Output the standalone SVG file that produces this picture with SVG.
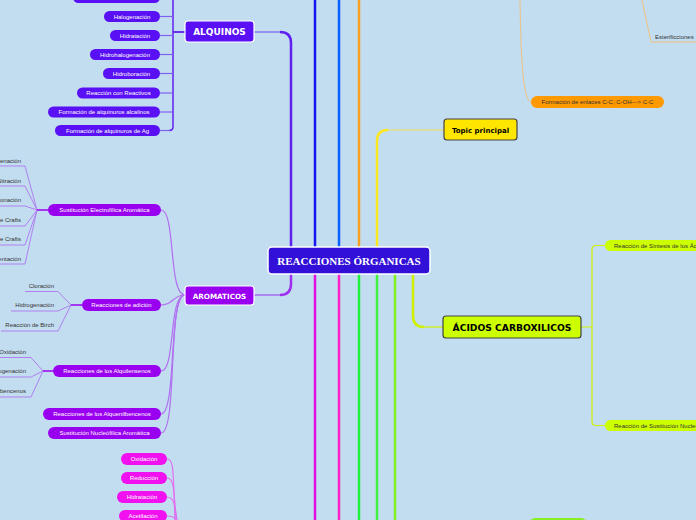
<svg xmlns="http://www.w3.org/2000/svg" width="696" height="520" viewBox="0 0 696 520">
<style>
.pt{font-family:"Liberation Sans",Arial,sans-serif;font-size:6px;text-anchor:middle;fill:#fff}
.pd{font-family:"Liberation Sans",Arial,sans-serif;font-size:6px;fill:#333}
.lbl{font-family:"Liberation Sans",Arial,sans-serif;font-size:6px;fill:#333;text-anchor:end}
.big{font-family:"DejaVu Sans",Verdana,sans-serif;font-weight:bold;text-anchor:middle}
.m{fill:none;stroke-width:2.5}
.t{fill:none;stroke-width:1.2}
.alq{fill:#5a10f4}
.aro{fill:#9900f0}
.mag{fill:#f010f0}
.acd{fill:#ccff00}
</style>
<rect width="696" height="520" fill="#c2ddf0"/>
<g id="connectors">
<path class="m" stroke="#6020f0" d="M291,247 V43 Q291,32 280,32"/>
<path class="t" stroke="#7a60f0" d="M280,32 H254"/>
<path class="m" stroke="#1414f0" d="M315,247 V0"/>
<path class="m" stroke="#0a60ff" d="M339,247 V0"/>
<path class="m" stroke="#f5a020" d="M359,247 V0"/>
<path class="m" stroke="#ffe820" d="M377,247 V141 Q377,130 388,130"/>
<path class="t" stroke="#f0e050" d="M388,130 H444"/>
<path class="m" stroke="#a030f0" d="M291,274 V284 Q291,295 280,295"/>
<path class="t" stroke="#a050f0" d="M280,295 H254"/>
<path class="m" stroke="#e010e0" d="M315,274 V520"/>
<path class="m" stroke="#ff20c8" d="M339,274 V520"/>
<path class="m" stroke="#20f040" d="M359,274 V520"/>
<path class="m" stroke="#40f040" d="M377,274 V520"/>
<path class="m" stroke="#80f020" d="M395,274 V520"/>
<path class="m" stroke="#d0f000" d="M413,274 V316 Q413,327 424,327"/>
<path class="t" stroke="#d0f000" d="M424,327 H443"/>
<path fill="none" stroke="#6020f0" stroke-width="1.5" d="M173,0 V127 Q173,130.5 169,130.5"/>
<g class="t" stroke="#8060f0">
<path d="M160,-2.5 H173"/><path d="M160,16.5 H173"/><path d="M160,35.5 H173"/><path d="M160,54.5 H173"/>
<path d="M160,73.5 H173"/><path d="M160,93 H173"/><path d="M160,112 H173"/><path d="M160,130.5 H170"/>
<path d="M173,32 H185" stroke="#6020f0" stroke-width="1.8"/>
</g>
<g class="t" stroke="#b070f0">
<path d="M161,210 C176,210 168,295 185,295"/>
<path d="M161,305 C174,305 172,295 185,295"/>
<path d="M161,371 C176,371 168,295 185,295"/>
<path d="M161,414 C177,414 168,295 185,295"/>
<path d="M161,433 C178,433 167,295 185,295"/>
</g>
<g fill="none" stroke="#b080f0" stroke-width="1">
<polyline points="0,166 25,166 37,210"/>
<polyline points="0,186 25,186 37,210"/>
<polyline points="0,206 25,206 37,210"/>
<polyline points="0,226 25,226 37,210"/>
<polyline points="0,245 25,245 37,210"/>
<polyline points="0,264 25,264 37,210"/>
<path d="M37,210 H48" stroke="#9900f0" stroke-width="1.5"/>
<polyline points="25,291.5 58,291.5 71,305"/>
<polyline points="11,311 58,311 71,305"/>
<polyline points="1,331 58,331 71,305"/>
<path d="M71,305 H82" stroke="#9900f0" stroke-width="1.5"/>
<polyline points="0,357.5 31,357.5 43,371"/>
<polyline points="0,377 31,377 43,371"/>
<polyline points="0,397 31,397 43,371"/>
<path d="M43,371 H53" stroke="#9900f0" stroke-width="1.5"/>
</g>
<g class="t" stroke="#e070f0">
<path d="M167,459 C174,459 173,470 175,520"/>
<path d="M167,478 C174,478 174,490 176,520"/>
<path d="M167,497 C174,497 175,505 177,520"/>
<path d="M167,516 C173,516 175,518 176,520"/>
</g>
<g fill="none" stroke="#f0c080" stroke-width="1">
<path d="M520,0 C521,60 523,100 531,102"/>
<path d="M642,0 L651,42 H696"/>
</g>
<path fill="none" stroke="#d0f000" stroke-width="1.2" d="M605,245.5 H596 Q592,245.5 592,249.5 V421.5 Q592,425.5 596,425.5 H605 M581,327 H592"/>
</g>
<g id="central">
<rect x="268" y="247" width="162" height="27" rx="4" fill="#3210d8" stroke="#fff" stroke-width="1.5"/>
<text x="349" y="264.5" font-family="'Liberation Serif','Times New Roman',serif" font-weight="bold" font-size="11" fill="#fff" text-anchor="middle">REACCIONES ÓRGANICAS</text>
</g>
<g id="alquinos">
<rect x="185" y="21" width="69" height="21" rx="3" fill="#5a10f4" stroke="#fff" stroke-width="1.2"/>
<text class="big" x="219.5" y="35" font-size="9" fill="#fff">ALQUINOS</text>
</g>
<g id="alq-children">
<rect class="alq" x="73" y="-8" width="87" height="11" rx="5.5"/>
<g id="alq1"><rect class="alq" x="104" y="11" width="56" height="11" rx="5.5"/><text class="pt" x="132" y="18.5">Halogenación</text></g>
<g id="alq2"><rect class="alq" x="110" y="30" width="50" height="11" rx="5.5"/><text class="pt" x="135" y="37.5">Hidratación</text></g>
<g id="alq3"><rect class="alq" x="90" y="49" width="70" height="11" rx="5.5"/><text class="pt" x="125" y="56.5">Hidrohalogenación</text></g>
<g id="alq4"><rect class="alq" x="103" y="68" width="57" height="11" rx="5.5"/><text class="pt" x="131.5" y="75.5">Hidroboración</text></g>
<g id="alq5"><rect class="alq" x="77" y="87.5" width="83" height="11" rx="5.5"/><text class="pt" x="118.5" y="95">Reacción con Reactivos</text></g>
<g id="alq6"><rect class="alq" x="48" y="106.5" width="112" height="11" rx="5.5"/><text class="pt" x="104" y="114">Formación de alquinuros alcalinos</text></g>
<g id="alq7"><rect class="alq" x="55" y="125" width="105" height="11" rx="5.5"/><text class="pt" x="107.5" y="132.5">Formación de alquinuros de Ag</text></g>
</g>
<g id="aromaticos">
<rect x="185" y="286" width="69" height="19" rx="3" fill="#9900f0" stroke="#fff" stroke-width="1.2"/>
<text class="big" x="219.5" y="298.5" font-size="7.2" fill="#fff">AROMATICOS</text>
</g>
<g id="aro-children">
<g id="aro1"><rect class="aro" x="48" y="204" width="113" height="12" rx="6"/><text class="pt" x="104.5" y="212">Sustitución Electrofílica Aromática</text></g>
<g id="aro2"><rect class="aro" x="82" y="299" width="79" height="12" rx="6"/><text class="pt" x="121.5" y="307">Reacciones de adición</text></g>
<g id="aro3"><rect class="aro" x="53" y="365" width="108" height="12" rx="6"/><text class="pt" x="107" y="373">Reacciones de los Alquilensenos</text></g>
<g id="aro4"><rect class="aro" x="43" y="408" width="118" height="12" rx="6"/><text class="pt" x="102" y="416">Reacciones de los Alquenilbencenos</text></g>
<g id="aro5"><rect class="aro" x="48" y="427" width="113" height="12" rx="6"/><text class="pt" x="104.5" y="435">Sustitución Nucleófilica Aromática</text></g>
</g>
<g id="sea-labels">
<text class="lbl" x="21" y="163">Halogenación</text>
<text class="lbl" x="21" y="183">Nitración</text>
<text class="lbl" x="21" y="202">Sulfonación</text>
<text class="lbl" x="21" y="222">Alquilación de Friedel e Crafts</text>
<text class="lbl" x="21" y="241">Acilación de Friedel e Crafts</text>
<text class="lbl" x="21" y="261">Orientación</text>
</g>
<g id="add-labels">
<text class="lbl" x="54" y="288">Cloración</text>
<text class="lbl" x="54" y="307">Hidrogenación</text>
<text class="lbl" x="54" y="327">Reacción de Birch</text>
</g>
<g id="alqs-labels">
<text class="lbl" x="26" y="354">Oxidación</text>
<text class="lbl" x="26" y="373">Hidrogenación</text>
<text class="lbl" x="26" y="393">alquilbencenos</text>
</g>
<g id="mag-children">
<g id="mag1"><rect class="mag" x="121" y="453" width="46" height="12" rx="6"/><text class="pt" x="144" y="461">Oxidación</text></g>
<g id="mag2"><rect class="mag" x="121" y="472" width="46" height="12" rx="6"/><text class="pt" x="144" y="480">Reducción</text></g>
<g id="mag3"><rect class="mag" x="117" y="491" width="50" height="12" rx="6"/><text class="pt" x="142" y="499">Hidratación</text></g>
<g id="mag4"><rect class="mag" x="119" y="510" width="48" height="12" rx="6"/><text class="pt" x="143" y="518">Acetilación</text></g>
</g>
<g id="topic">
<rect x="444" y="119" width="73" height="21" rx="3" fill="#ffe600" stroke="#444" stroke-width="1.2"/>
<text class="big" x="480.5" y="133" font-size="7" fill="#000">Topic principal</text>
</g>
<g id="acidos">
<rect x="443" y="316" width="138" height="22" rx="3" fill="#ccff00" stroke="#444" stroke-width="1.2"/>
<text class="big" x="512" y="330.5" font-size="9.2" fill="#000">ÁCIDOS CARBOXILICOS</text>
</g>
<g id="acd-children">
<g id="acd1"><rect class="acd" x="605" y="240" width="130" height="11" rx="5.5"/><text class="pd" x="614" y="247.5">Reacción de Síntesis de los Ácidos</text></g>
<g id="acd2"><rect class="acd" x="605" y="420" width="130" height="11" rx="5.5"/><text class="pd" x="614" y="427.5">Reacción de Sustitución Nucleofílica</text></g>
</g>
<g id="orange">
<rect x="531" y="96" width="133" height="12" rx="6" fill="#ff9900"/>
<text class="pd" x="597.5" y="104" text-anchor="middle">Formación de enlaces C-C; C-OH---&gt; C-C</text>
</g>
<g id="ester">
<text class="pd" x="655" y="39">Esterificciones</text>
</g>
<g id="green-bottom">
<rect x="529" y="518" width="58" height="12" rx="6" fill="#88f020"/>
</g>
</svg>
